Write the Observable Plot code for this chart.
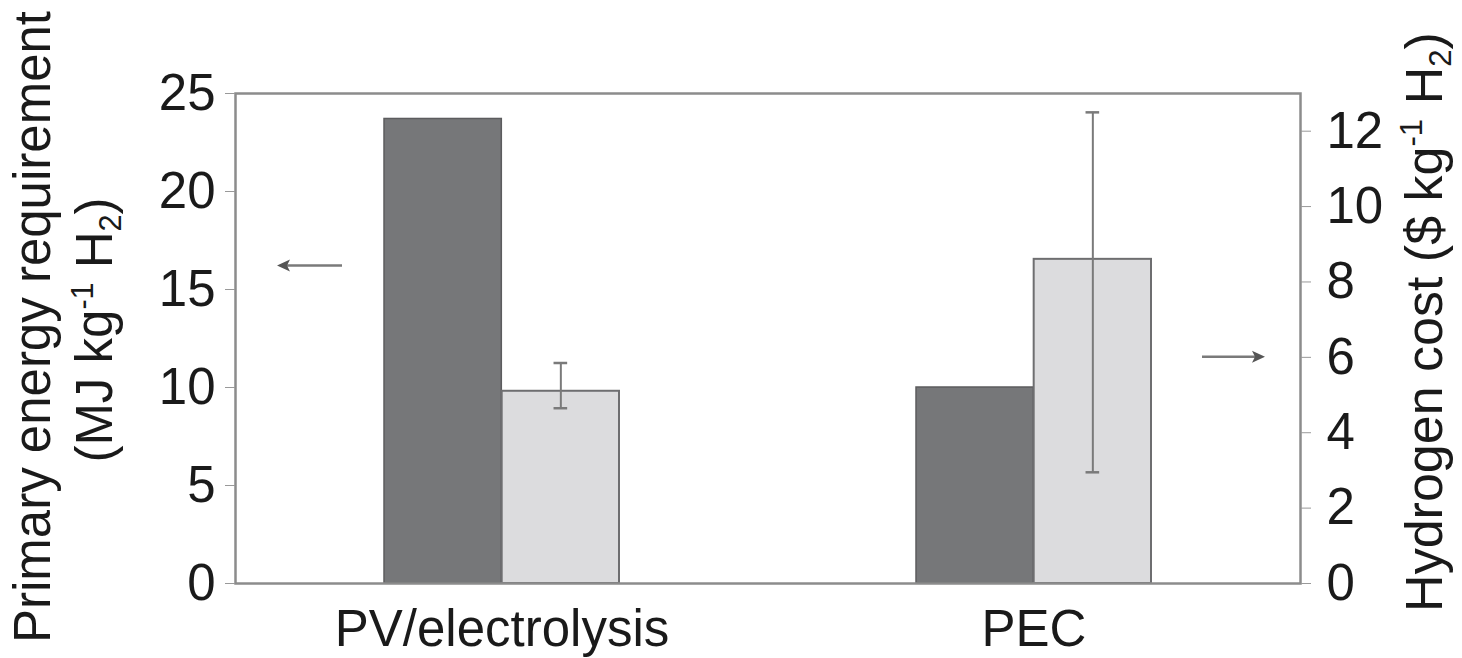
<!DOCTYPE html>
<html>
<head>
<meta charset="utf-8">
<script src="https://cdn.jsdelivr.net/npm/d3@7"></script>
<script src="https://cdn.jsdelivr.net/npm/@observablehq/plot@0.6"></script>
<style>
  html, body { margin: 0; padding: 0; background: #fff; }
  #chart { width: 1462px; height: 658px; }
</style>
</head>
<body>
<div id="chart"></div>
<script>
// ---- data ----
const categories = ["PV/electrolysis", "PEC"];
const energy = [23.7, 10.0];        // Primary energy requirement, MJ kg-1 H2 (left axis)
const cost = [5.1, 8.6];            // Hydrogen cost, $ kg-1 H2 (right axis)
const costLow = [4.65, 2.95];       // error bar low
const costHigh = [5.85, 12.5];      // error bar high
const leftTicks = [0, 5, 10, 15, 20, 25];
const rightTicks = [0, 2, 4, 6, 8, 10, 12];
const leftMax = 25;
const rightMax = 13;
const leftArrowValue = 16.2;   // left-axis units
const rightArrowValue = 6;     // right-axis units

// ---- layout ----
const W = 1462, H = 658;
const mL = 235, mR = 162, mT = 93, mB = 75;
const pInner = 0.558, pOuter = 0.279;
const step = (W - mL - mR) / (categories.length - pInner + 2 * pOuter);
const bw = step * (1 - pInner);
const k = leftMax / rightMax;   // right-axis units -> left-axis units
const font = "'Liberation Sans', Arial, Helvetica, sans-serif";
const fs = 51;

const rows = categories.map((c, i) => ({
  category: c, energy: energy[i], cost: cost[i], low: costLow[i], high: costHigh[i]
}));

const cap = 7;
const plot = Plot.plot({
  width: W, height: H,
  marginLeft: mL, marginRight: mR, marginTop: mT, marginBottom: mB,
  style: { fontFamily: font, background: "#fff", color: "#1a1a1a" },
  x: { domain: categories, paddingInner: pInner, paddingOuter: pOuter, axis: null },
  y: { domain: [0, leftMax], axis: null },
  marks: [
    Plot.barY(rows, { x: "category", y: "energy", fill: "#767779", stroke: "#5c5c5e", strokeWidth: 1.5, insetRight: bw / 2 }),
    Plot.barY(rows, { x: "category", y: d => d.cost * k, fill: "#dcdcde", stroke: "#6e6e70", strokeWidth: 2, insetLeft: bw / 2 }),
    Plot.ruleX(rows, { x: "category", y1: d => d.low * k, y2: d => d.high * k, dx: bw / 4, stroke: "#7a7a7a", strokeWidth: 2 }),
    Plot.tickY(rows, { x: "category", y: d => d.high * k, insetLeft: bw * 0.75 - cap, insetRight: bw * 0.25 - cap, stroke: "#7a7a7a", strokeWidth: 2.5 }),
    Plot.tickY(rows, { x: "category", y: d => d.low * k, insetLeft: bw * 0.75 - cap, insetRight: bw * 0.25 - cap, stroke: "#7a7a7a", strokeWidth: 2.5 }),
    Plot.frame({ stroke: "#8c8c8c", strokeWidth: 2.5 }),
    Plot.axisY({ anchor: "left", ticks: leftTicks, tickSize: 10, tickPadding: 10, fontSize: fs, stroke: "#999", fill: "#1a1a1a", label: null }),
    Plot.axisY({ anchor: "right", ticks: rightTicks.map(v => v * k), tickFormat: v => String(Math.round(v / k)), tickSize: 10, tickPadding: 16, fontSize: fs, stroke: "#999", fill: "#1a1a1a", label: null }),
    Plot.axisX({ tickSize: 0, tickPadding: 26, fontSize: fs, fill: "#1a1a1a", label: null })
  ]
});
document.getElementById("chart").appendChild(plot);

// ---- axis titles and direction arrows ----
const svg = d3.select(plot);
const yS = plot.scale("y");

function rotatedLabel(x, y, size, parts) {
  const t = svg.append("text")
    .attr("transform", `translate(${x},${y}) rotate(-90)`)
    .attr("text-anchor", "middle")
    .attr("font-family", font)
    .attr("font-size", size)
    .attr("fill", "#1a1a1a");
  parts.forEach(p => {
    const ts = t.append("tspan").text(p.t);
    if (p.sup) ts.attr("font-size", size * 0.6).attr("dy", -size * 0.38);
    if (p.sub) ts.attr("font-size", size * 0.6).attr("dy", size * 0.18);
    if (p.reset) ts.attr("dy", p.reset * size);
  });
}
rotatedLabel(50, 327, fs, [{ t: "Primary energy requirement" }]);
rotatedLabel(112, 330, fs, [
  { t: "(MJ kg" }, { t: "-1", sup: true }, { t: " H", reset: 0.38 }, { t: "2", sub: true }, { t: ")", reset: -0.18 }
]);
rotatedLabel(1442, 322, 52, [
  { t: "Hydrogen cost ($ kg" }, { t: "-1", sup: true }, { t: " H", reset: 0.38 }, { t: "2", sub: true }, { t: ")", reset: -0.18 }
]);

function arrow(x1, x2, y) {
  const g = svg.append("g").attr("stroke", "#555").attr("fill", "#555");
  const dir = Math.sign(x2 - x1);
  g.append("line").attr("x1", x1).attr("x2", x2 - dir * 8).attr("y1", y).attr("y2", y)
    .attr("stroke-width", 2.5).attr("stroke", "#7a7a7a");
  g.append("path").attr("stroke", "none")
    .attr("d", `M${x2},${y} L${x2 - dir * 13},${y - 6} L${x2 - dir * 10},${y} L${x2 - dir * 13},${y + 6} Z`);
}
arrow(342, 277, yS.apply(leftArrowValue));
arrow(1202, 1265, yS.apply(rightArrowValue * k));
</script>
</body>
</html>
